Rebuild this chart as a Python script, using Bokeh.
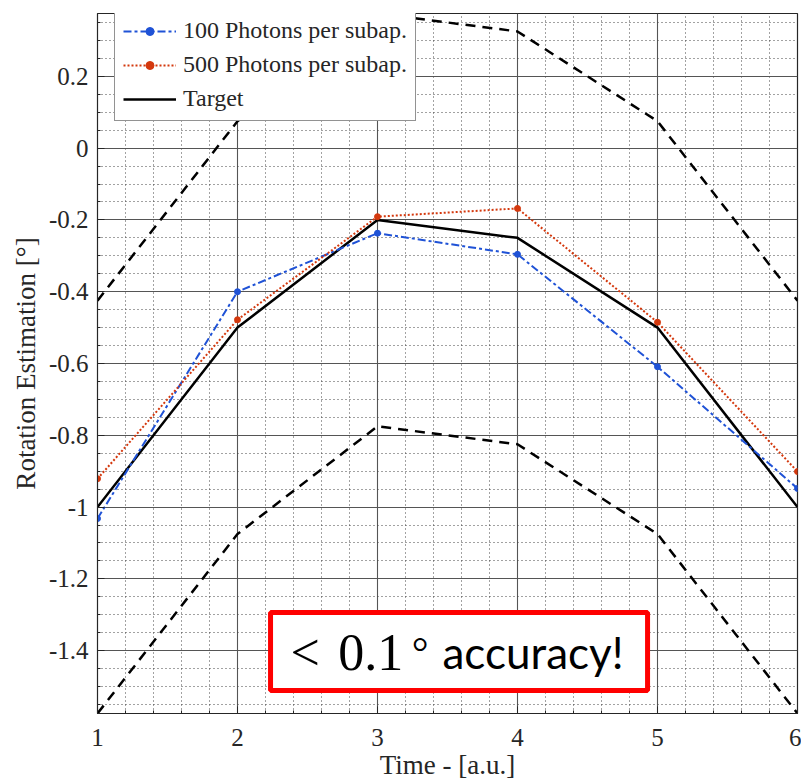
import numpy as np
from bokeh.plotting import figure
from bokeh.models import (Legend, LegendItem, BoxAnnotation, Label, FixedTicker, Range1d)
from bokeh.embed import file_html
from bokeh.resources import INLINE

# ---- data ----
time = [1, 2, 3, 4, 5, 6]
target = [-1.0, -0.5, -0.2, -0.25, -0.5, -1.0]
photons_100 = [-1.032, -0.40, -0.237, -0.296, -0.609, -0.948]
photons_500 = [-0.921, -0.478, -0.191, -0.168, -0.485, -0.901]
upper_bound = [-0.425, 0.075, 0.375, 0.325, 0.075, -0.425]
lower_bound = [-1.575, -1.075, -0.775, -0.825, -1.075, -1.575]
x_ticks = [1, 2, 3, 4, 5, 6]
y_ticks = [-1.4, -1.2, -1.0, -0.8, -0.6, -0.4, -0.2, 0.0, 0.2]
y_tick_labels = ["-1.4", "-1.2", "-1", "-0.8", "-0.6", "-0.4", "-0.2", "0", "0.2"]
series_labels = ["100 Photons per subap.", "500 Photons per subap.", "Target"]
note_parts = ["<", "0.1", "°", "accuracy!"]

SERIF = "'Liberation Serif', serif"
BLUE = "#1f52d6"
RED = "#d4380d"

p = figure(width=801, height=782, frame_width=700, frame_height=700,
           output_backend="svg", toolbar_location=None,
           x_range=Range1d(1, 6), y_range=Range1d(-1.575, 0.375),
           min_border_left=97, min_border_right=4, min_border_top=13, min_border_bottom=69)
p.background_fill_color = "white"
p.border_fill_color = "white"
p.outline_line_color = "#262626"
p.outline_line_width = 1.2

x_minor = [round(v, 3) for v in np.arange(1, 6.001, 0.2)]
y_minor = [round(v, 3) for v in np.arange(-1.55, 0.376, 0.05)]
p.xaxis.ticker = FixedTicker(ticks=x_ticks, minor_ticks=x_minor)
p.yaxis.ticker = FixedTicker(ticks=y_ticks, minor_ticks=y_minor)
p.yaxis.major_label_overrides = {t: l for t, l in zip(y_ticks, y_tick_labels)}

for ax in (p.xaxis[0], p.yaxis[0]):
    ax.major_label_text_font = SERIF
    ax.major_label_text_font_size = "25px"
    ax.major_label_text_color = "#262626"
    ax.axis_label_text_font = SERIF
    ax.axis_label_text_font_size = "27px"
    ax.axis_label_text_font_style = "normal"
    ax.axis_label_text_color = "#262626"
    ax.axis_line_color = "#262626"
    ax.major_tick_line_color = "#262626"
    ax.minor_tick_line_color = "#262626"
    ax.major_tick_in = 7
    ax.major_tick_out = 0
    ax.minor_tick_in = 3
    ax.minor_tick_out = 0

p.xaxis.axis_label = "Time - [a.u.]"
p.yaxis.axis_label = "Rotation Estimation [°]"
p.xaxis.major_label_standoff = 15
p.yaxis.major_label_standoff = 9
p.xaxis.axis_label_standoff = 1
p.yaxis.axis_label_standoff = 5

for g in (p.xgrid[0], p.ygrid[0]):
    g.grid_line_color = "#555555"
    g.grid_line_width = 1.1
    g.minor_grid_line_color = "#444444"
    g.minor_grid_line_dash = "1 3"
    g.minor_grid_line_width = 1

# bounds
p.line(time, upper_bound, line_color="black", line_width=2.5, line_dash="10 7")
p.line(time, lower_bound, line_color="black", line_width=2.5, line_dash="10 7")

# series
r_t = p.line(time, target, line_color="black", line_width=2.5)
r_b = p.line(time, photons_100, line_color=BLUE, line_width=2, line_dash="8 3 3 3")
r_bp = p.scatter(time, photons_100, marker="circle", size=6, color=BLUE)
r_r = p.line(time, photons_500, line_color=RED, line_width=2, line_dash="2 2")
r_rp = p.scatter(time, photons_500, marker="circle", size=6, color=RED)

legend = Legend(items=[
    LegendItem(label=series_labels[0], renderers=[r_b, r_bp]),
    LegendItem(label=series_labels[1], renderers=[r_r, r_rp]),
    LegendItem(label=series_labels[2], renderers=[r_t]),
], location=(17, 592), margin=0, padding=8, spacing=7,
    label_height=20, glyph_height=20, glyph_width=53, label_standoff=7,
    label_text_font=SERIF, label_text_font_size="24px", label_text_color="#262626",
    border_line_color="#262626", border_line_width=1.2, background_fill_alpha=1)
p.add_layout(legend, "center")

# red note box
box = BoxAnnotation(left=2.236, right=4.929, top=-1.2935, bottom=-1.5108,
                    fill_color="white", fill_alpha=1, line_color="#ff0000", line_width=5,
                    line_alpha=1)
p.add_layout(box)

base_y = -1.405
p.add_layout(Label(x=2.379, y=base_y, text=note_parts[0], text_font=SERIF,
                   text_font_size="52px", text_color="black", text_baseline="alphabetic"))
p.add_layout(Label(x=2.72, y=base_y, text=note_parts[1], text_font=SERIF,
                   text_font_size="52px", text_color="black", text_baseline="alphabetic"))
p.add_layout(Label(x=3.245, y=base_y, text=note_parts[2], text_font=SERIF,
                   text_font_size="42px", text_color="black", text_baseline="alphabetic"))
p.add_layout(Label(x=3.464, y=base_y, text=note_parts[3], text_font="Lato",
                   text_font_size="44px", text_color="black", text_baseline="alphabetic"))

open("out.html", "w").write(file_html(p, INLINE))
